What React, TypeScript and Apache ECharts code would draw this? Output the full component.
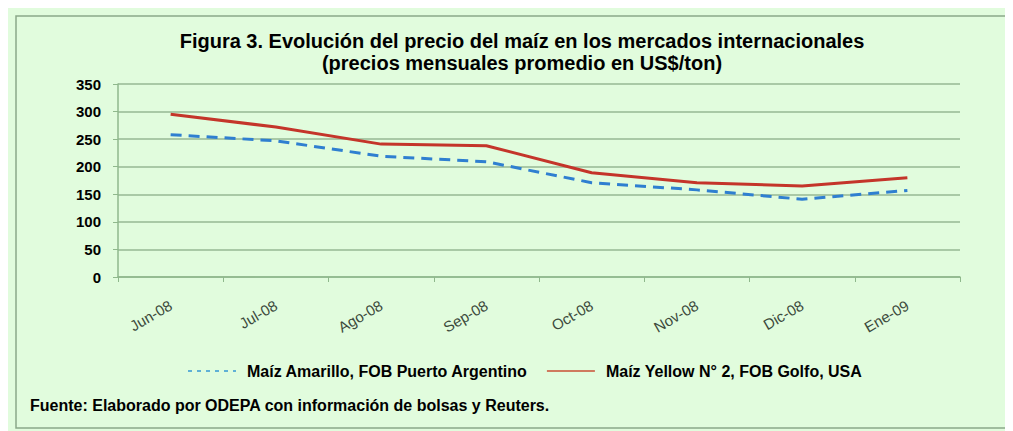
import React, { useEffect, useRef } from "react";
import * as echarts from "echarts";

const categories = ["Jun-08", "Jul-08", "Ago-08", "Sep-08", "Oct-08", "Nov-08", "Dic-08", "Ene-09"];
const amarilloArg = [258, 247, 219, 209, 171, 158, 141, 157];
const yellowUsa = [295, 272, 241, 238, 189, 171, 165, 180];
const seriesNames = ["Maíz Amarillo, FOB Puerto Argentino", "Maíz Yellow N° 2, FOB Golfo, USA"];
const titleLines = [
  "Figura 3. Evolución del precio del maíz en los mercados internacionales",
  "(precios mensuales promedio en US$/ton)",
];
const sourceText = "Fuente: Elaborado por ODEPA con información de bolsas y Reuters.";

const FONT = "'Liberation Sans', Arial, sans-serif";

export default function App() {
  const ref = useRef<HTMLDivElement>(null);
  useEffect(() => {
    if (!ref.current) return;
    const chart = echarts.init(ref.current, null, { renderer: "svg" });
    chart.setOption({
      animation: false,
      backgroundColor: "#e1fcdd",
      title: {
        text: titleLines[0] + "\n" + titleLines[1],
        left: 509,
        textAlign: "center",
        top: 17,
        textStyle: {
          fontFamily: FONT,
          fontWeight: "bold",
          fontSize: 20,
          lineHeight: 22,
          color: "#000",
        },
      },
      grid: { left: 110, right: 53, top: 76, bottom: 154 },
      legend: {
        top: 350,
        left: 174,
        itemWidth: 48,
        itemHeight: 14,
        itemGap: 18,
        itemStyle: { opacity: 0 },
        textStyle: {
          fontFamily: FONT,
          fontWeight: "bold",
          fontSize: 16,
          color: "#000",
          padding: [0, 0, 0, 6],
        },
        data: [
          { name: seriesNames[0], lineStyle: { color: "#5fb0d6", width: 2, type: [4, 5] } },
          { name: seriesNames[1], lineStyle: { color: "#cf7a5e", width: 2 } },
        ],
      },
      xAxis: {
        type: "category",
        data: categories,
        boundaryGap: true,
        axisLine: { lineStyle: { color: "#8fb88c", width: 1.5 } },
        axisTick: { show: true, length: 5, lineStyle: { color: "#8fb88c" } },
        axisLabel: {
          rotate: 30,
          fontFamily: FONT,
          fontSize: 15,
          color: "#3c4a3c",
          margin: 27,
        },
      },
      yAxis: {
        type: "value",
        min: 0,
        max: 350,
        interval: 50,
        axisLine: { show: true, lineStyle: { color: "#8fb88c", width: 1.5 } },
        axisTick: { show: true, length: 5, lineStyle: { color: "#8fb88c" } },
        splitLine: { lineStyle: { color: "#96b993", width: 1.5 } },
        axisLabel: {
          fontFamily: FONT,
          fontWeight: "bold",
          fontSize: 15,
          color: "#000",
          margin: 17,
        },
      },
      series: [
        {
          name: seriesNames[0],
          type: "line",
          data: amarilloArg,
          symbol: "none",
          lineStyle: { color: "#2f7fd0", width: 3, type: [11, 7] },
          itemStyle: { color: "#2f7fd0" },
          z: 3,
        },
        {
          name: seriesNames[1],
          type: "line",
          data: yellowUsa,
          symbol: "none",
          lineStyle: { color: "#c4352a", width: 3 },
          itemStyle: { color: "#c4352a" },
          z: 4,
        },
      ],
      graphic: [
        {
          type: "rect",
          shape: { x: 8, y: 8, width: 996, height: 412 },
          style: { fill: "none", stroke: "#8aa889", lineWidth: 1.5 },
          silent: true,
        },
        {
          type: "text",
          x: 22,
          y: 397,
          style: {
            text: sourceText,
            fontFamily: FONT,
            fontWeight: "bold",
            fontSize: 16,
            fill: "#000",
            verticalAlign: "middle",
          },
        },
      ],
    });
    return () => chart.dispose();
  }, []);
  return <div ref={ref} style={{ width: 1005, height: 423 }} />;
}
